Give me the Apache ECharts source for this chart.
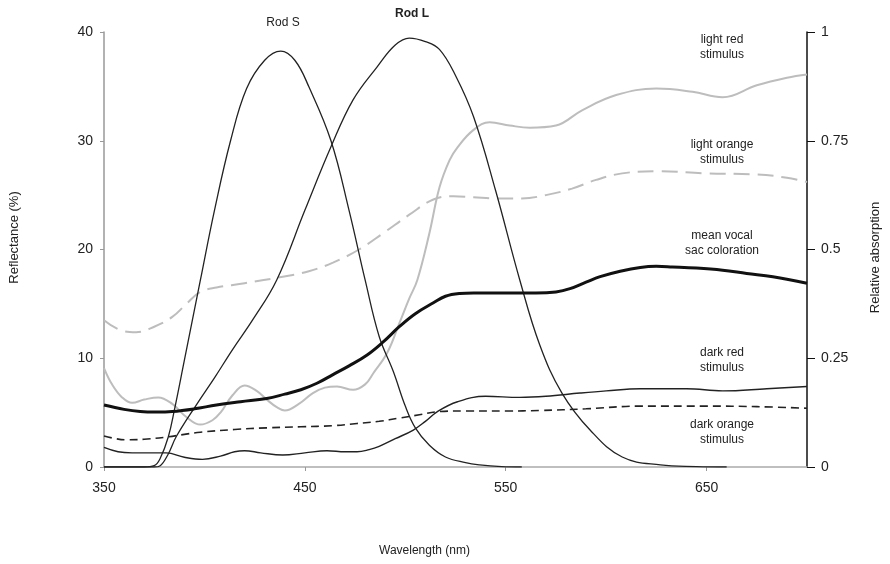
<!DOCTYPE html>
<html>
<head>
<meta charset="utf-8">
<script src="https://cdn.jsdelivr.net/npm/echarts@6/dist/echarts.min.js"></script>
<style>
html,body{margin:0;padding:0;background:#fff;}
#chart{width:890px;height:564px;}
</style>
</head>
<body>
<div id="chart"></div>
<script>
// ---- data ----
var xTicks = [350, 450, 550, 650];

var rodS_nm  = [350, 370, 375, 378, 382, 385, 390, 398, 405, 413, 421, 430, 438, 445, 452, 463, 472, 480, 487, 494, 500, 505, 512, 520, 530, 537, 548, 558];
var rodS_abs = [0, 0, 0.003, 0.02, 0.069, 0.13, 0.245, 0.43, 0.59, 0.75, 0.87, 0.935, 0.956, 0.935, 0.874, 0.75, 0.59, 0.43, 0.3, 0.22, 0.14, 0.09, 0.05, 0.023, 0.01, 0.005, 0.001, 0];

var rodL_nm  = [350, 375, 378, 382, 386, 396, 405, 414, 424, 436, 450, 463, 474, 486, 495, 502, 510, 517, 525, 534, 545, 557, 567, 578, 592, 608, 627, 645, 660];
var rodL_abs = [0, 0, 0.003, 0.03, 0.07, 0.143, 0.205, 0.27, 0.338, 0.43, 0.59, 0.736, 0.844, 0.92, 0.97, 0.986, 0.978, 0.96, 0.9, 0.805, 0.635, 0.43, 0.28, 0.17, 0.085, 0.023, 0.005, 0.001, 0];

var lightRed_nm  = [350, 354, 359, 364, 370, 377, 384, 391, 398, 404, 408, 414, 420, 426, 431, 436, 440, 447, 454, 460, 466, 474, 480, 484, 491, 497, 502, 506, 512, 517, 522, 526, 534, 542, 552, 562, 575, 588, 605, 625, 643, 658, 675, 690, 700];
var lightRed_val = [9.1, 7.6, 6.4, 5.9, 6.2, 6.4, 5.8, 4.6, 3.9, 4.3, 5.0, 6.6, 7.5, 7.0, 6.2, 5.5, 5.2, 5.8, 6.8, 7.3, 7.4, 7.1, 7.6, 8.6, 10.5, 13.2, 15.5, 17.2, 21.5, 25.7, 28.2, 29.4, 31.0, 31.7, 31.4, 31.2, 31.4, 32.8, 34.2, 34.8, 34.5, 34.0, 35.1, 35.8, 36.1];

var lightOrange_nm  = [350, 358, 366, 375, 384, 391, 398, 406, 420, 439, 452, 464, 477, 489, 502, 514, 524, 534, 546, 558, 570, 583, 595, 608, 625, 650, 675, 690, 700];
var lightOrange_val = [13.5, 12.6, 12.4, 12.9, 13.8, 15.0, 16.1, 16.5, 16.9, 17.5, 18.0, 18.8, 20.0, 21.5, 23.2, 24.6, 24.9, 24.8, 24.7, 24.7, 25.0, 25.6, 26.4, 27.0, 27.2, 27.0, 26.9, 26.6, 26.2];

var meanVocal_nm  = [350, 360, 368, 376, 384, 395, 406, 418, 431, 440, 448, 456, 464, 472, 481, 489, 497, 505, 514, 520, 527, 534, 550, 565, 575, 582, 590, 597, 607, 617, 625, 633, 645, 658, 670, 683, 700];
var meanVocal_val = [5.7, 5.3, 5.1, 5.05, 5.1, 5.35, 5.7, 6.0, 6.3, 6.7, 7.1, 7.7, 8.5, 9.3, 10.3, 11.5, 12.9, 14.1, 15.1, 15.7, 15.95, 16.0, 16.0, 16.0, 16.1, 16.4, 17.0, 17.5, 18.0, 18.35, 18.45, 18.4, 18.3, 18.1, 17.8, 17.5, 16.9];

var darkRed_nm  = [350, 357, 364, 372, 381, 390, 399, 408, 415, 420, 428, 439, 450, 461, 470, 476, 482, 487, 495, 504, 510, 516, 526, 540, 557, 570, 587, 600, 617, 640, 658, 680, 700];
var darkRed_val = [1.8, 1.4, 1.3, 1.3, 1.3, 0.9, 0.7, 1.0, 1.4, 1.5, 1.3, 1.1, 1.3, 1.5, 1.4, 1.4, 1.6, 1.9, 2.6, 3.4, 4.2, 5.1, 6.0, 6.5, 6.4, 6.5, 6.8, 7.0, 7.2, 7.2, 7.0, 7.2, 7.4];

var darkOrange_nm  = [350, 356, 361, 370, 381, 390, 398, 415, 431, 448, 464, 476, 487, 497, 507, 517, 530, 550, 567, 590, 617, 650, 675, 700];
var darkOrange_val = [2.85, 2.6, 2.5, 2.55, 2.75, 3.0, 3.2, 3.45, 3.6, 3.7, 3.8, 4.0, 4.2, 4.5, 4.8, 5.1, 5.15, 5.15, 5.2, 5.35, 5.6, 5.6, 5.55, 5.4];

function pairs(xs, ys) { return xs.map(function (x, i) { return [x, ys[i]]; }); }

var FONT = '"Liberation Sans", Arial, sans-serif';
var TXT = '#222';

var chart = echarts.init(document.getElementById('chart'), null, {renderer: 'canvas'});

function label(text, x, y, opts) {
  return {
    type: 'text', x: x, y: y,
    style: Object.assign({
      text: text, fill: TXT, font: '12px ' + FONT,
      textAlign: 'center', textVerticalAlign: 'middle', lineHeight: 15
    }, opts || {})
  };
}

var option = {
  backgroundColor: '#fff',
  animation: false,
  grid: {left: 104, right: 82, top: 32, bottom: 97, containLabel: false},
  xAxis: {
    type: 'value', min: 350, max: 700,
    name: 'Wavelength (nm)', nameLocation: 'middle', nameGap: 78,
    nameTextStyle: {color: TXT, fontSize: 12, fontFamily: FONT, padding: [0, 62, 0, 0]},
    axisLine: {show: true, onZero: false, lineStyle: {color: '#aaa', width: 1.5}},
    axisTick: {show: true, length: 4, lineStyle: {color: '#999'}, customValues: xTicks},
    axisLabel: {color: TXT, fontSize: 14, fontFamily: FONT, margin: 14, customValues: xTicks},
    splitLine: {show: false}
  },
  yAxis: [{
    type: 'value', min: 0, max: 40, interval: 10, position: 'left',
    name: 'Reflectance (%)', nameLocation: 'middle', nameGap: 83,
    nameTextStyle: {color: TXT, fontSize: 13, fontFamily: FONT, padding: [0, 0, 0, 24]},
    axisLine: {show: true, lineStyle: {color: '#999', width: 1.5}},
    axisTick: {show: true, length: 4, lineStyle: {color: '#999'}},
    axisLabel: {color: TXT, fontSize: 14, fontFamily: FONT, margin: 11},
    splitLine: {show: false}
  }, {
    type: 'value', min: 0, max: 1, interval: 0.25, position: 'right',
    name: 'Relative absorption', nameLocation: 'middle', nameGap: 62,
    nameTextStyle: {color: TXT, fontSize: 13, fontFamily: FONT, padding: [0, 16, 0, 0]},
    axisLine: {show: true, lineStyle: {color: '#111', width: 1.5}},
    axisTick: {show: true, length: 8, lineStyle: {color: '#111'}},
    axisLabel: {color: TXT, fontSize: 14, fontFamily: FONT, margin: 14},
    splitLine: {show: false}
  }],
  series: [
    {name: 'light red stimulus', type: 'line', yAxisIndex: 0, data: pairs(lightRed_nm, lightRed_val),
     showSymbol: false, smooth: 0.4, lineStyle: {color: '#bdbdbd', width: 2}, z: 2},
    {name: 'light orange stimulus', type: 'line', yAxisIndex: 0, data: pairs(lightOrange_nm, lightOrange_val),
     showSymbol: false, smooth: 0.4, lineStyle: {color: '#bdbdbd', width: 2, type: [16, 8]}, z: 2},
    {name: 'mean vocal sac coloration', type: 'line', yAxisIndex: 0, data: pairs(meanVocal_nm, meanVocal_val),
     showSymbol: false, smooth: 0.4, lineStyle: {color: '#111', width: 3}, z: 4},
    {name: 'dark red stimulus', type: 'line', yAxisIndex: 0, data: pairs(darkRed_nm, darkRed_val),
     showSymbol: false, smooth: 0.4, lineStyle: {color: '#222', width: 1.4}, z: 3},
    {name: 'dark orange stimulus', type: 'line', yAxisIndex: 0, data: pairs(darkOrange_nm, darkOrange_val),
     showSymbol: false, smooth: 0.4, lineStyle: {color: '#222', width: 1.6, type: [8, 5]}, z: 3},
    {name: 'Rod S', type: 'line', yAxisIndex: 1, data: pairs(rodS_nm, rodS_abs),
     showSymbol: false, smooth: 0.4, lineStyle: {color: '#222', width: 1.3}, z: 3},
    {name: 'Rod L', type: 'line', yAxisIndex: 1, data: pairs(rodL_nm, rodL_abs),
     showSymbol: false, smooth: 0.4, lineStyle: {color: '#222', width: 1.3}, z: 3}
  ],
  graphic: [
    label('Rod S', 283, 23),
    label('Rod L', 412, 14, {font: 'bold 12px ' + FONT}),
    label('light red\nstimulus', 722, 47),
    label('light orange\nstimulus', 722, 152),
    label('mean vocal\nsac coloration', 722, 243),
    label('dark red\nstimulus', 722, 360),
    label('dark orange\nstimulus', 722, 432)
  ]
};

chart.setOption(option);
</script>
</body>
</html>
